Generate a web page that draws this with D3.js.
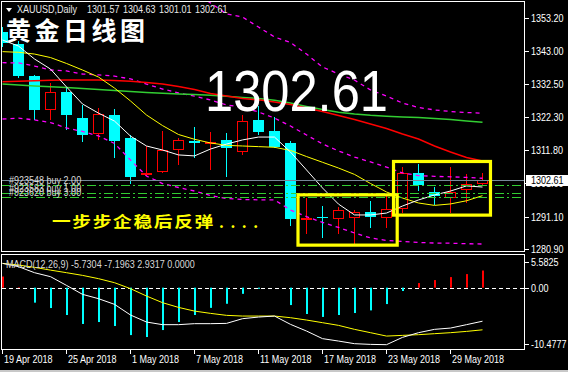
<!DOCTYPE html>
<html>
<head>
<meta charset="utf-8">
<script src="https://cdnjs.cloudflare.com/ajax/libs/d3/7.8.5/d3.min.js"></script>
<style>
html, body { margin: 0; padding: 0; background: #000; overflow: hidden; }
svg { display: block; }
</style>
</head>
<body>
<svg id="chart" width="568" height="372"></svg>
<script>
// ---- data ----
var dates = ["19 Apr 2018","20 Apr 2018","23 Apr 2018","24 Apr 2018","25 Apr 2018","26 Apr 2018","27 Apr 2018","30 Apr 2018",
             "1 May 2018","2 May 2018","3 May 2018","4 May 2018","7 May 2018","8 May 2018","9 May 2018","10 May 2018",
             "11 May 2018","14 May 2018","15 May 2018","16 May 2018","17 May 2018","18 May 2018","21 May 2018","22 May 2018",
             "23 May 2018","24 May 2018","25 May 2018","28 May 2018","29 May 2018","30 May 2018","31 May 2018"];
var open  = [1349.0,1345.15,1335.1,1324.7,1330.2,1322.1,1317.2,1322.9,1315.8,1304.4,1305.5,1312.2,1314.9,1314.0,1315.1,1311.7,
             1321.35,1317.9,1314.05,1290.3,1291.0,1290.55,1290.9,1292.5,1290.9,1293.9,1304.85,1298.7,1297.3,1299.65,1301.57];
var high  = [1350.5,1346.2,1335.3,1332.8,1331.8,1326.0,1325.0,1324.7,1316.65,1313.2,1318.0,1315.6,1319.1,1317.7,1317.4,1322.9,
             1325.7,1322.2,1314.8,1296.8,1294.4,1294.0,1293.15,1296.1,1297.55,1306.5,1307.55,1300.3,1306.5,1304.4,1304.63];
var low   = [1344.6,1334.7,1321.7,1321.75,1318.4,1314.9,1315.3,1309.85,1301.5,1304.1,1305.15,1307.6,1309.85,1305.85,1303.8,1310.6,
             1316.95,1312.8,1288.5,1286.05,1284.8,1285.85,1282.5,1287.75,1287.75,1292.6,1299.4,1295.0,1292.6,1295.75,1301.01];
var close = [1345.4,1335.1,1324.5,1330.1,1322.9,1316.65,1323.1,1314.9,1303.6,1304.75,1311.95,1315.1,1314.05,1314.3,1312.5,1321.0,
             1317.7,1313.0,1290.3,1290.65,1290.65,1293.15,1292.6,1291.05,1293.4,1304.65,1301.0,1297.6,1298.8,1301.2,1302.61];

var maWhite  = [1346.4,1344.5,1340.45,1337.3,1331.7,1326.35,1323.5,1321.0,1316.3,1313.2,1311.95,1310.4,1310.1,1312.25,1313.8,1315.1,
                1316.0,1316.0,1311.3,1305.7,1300.05,1295.0,1291.6,1291.6,1292.2,1294.4,1296.3,1297.85,1299.1,1300.7,1300.35];
var maYellow = [1342.75,1342.55,1342.0,1340.9,1339.05,1337.0,1334.8,1331.35,1327.3,1322.9,1319.6,1316.8,1315.3,1314.15,1313.4,1313.2,
                1313.0,1312.8,1311.8,1309.9,1308.1,1306.3,1304.3,1301.45,1298.8,1296.9,1295.35,1294.6,1295.05,1296.05,1297.65];
var maRed    = [1333.35,1333.45,1333.65,1333.8,1333.9,1333.9,1333.9,1333.7,1333.45,1333.1,1332.6,1331.85,1330.9,1329.65,1328.85,1328.1,
                1327.65,1327.0,1326.2,1325.1,1324.0,1322.75,1321.5,1320.1,1318.7,1316.95,1315.4,1313.2,1311.3,1309.6,1308.5];
var maGreen  = [1332.6,1332.3,1332.0,1331.75,1331.5,1331.2,1330.9,1330.6,1330.25,1329.95,1329.7,1329.5,1329.35,1329.1,1328.75,1328.4,
                1328.1,1327.5,1326.65,1325.6,1324.6,1323.8,1323.2,1322.8,1322.55,1322.3,1322.1,1321.8,1321.5,1321.05,1320.6];
var bandUpper = [null,null,null,null,null,null,null,null,null,null,null,null,1361.45,1358.0,1354.55,1353.6,
                 1350.45,1347.35,1345.6,1342.0,1337.95,1335.75,1333.85,1330.75,1328.85,1326.65,1325.25,1324.5,1324.0,1323.7,1323.45];
var bandMid   = [1339.3,1339.2,1338.25,1337.0,1336.7,1335.75,1335.45,1335.1,1334.2,1332.6,1331.05,1329.8,1328.85,1327.6,1326.05,1325.4,
                 1323.85,1321.95,1319.45,1316.65,1313.85,1311.65,1309.75,1308.2,1306.6,1304.75,1303.95,1303.7,1303.55,1303.35,1303.1];
var bandLower = [1321.65,1321.95,1321.35,1320.55,1318.85,1317.75,1316.35,1314.0,1308.8,1303.8,1301.45,1300.2,1299.1,1297.7,1296.75,1296.45,
                 1296.35,1296.3,1293.15,1291.1,1289.25,1287.7,1285.95,1284.4,1283.6,1283.3,1283.0,1282.8,1282.75,1282.6,1282.5];

var macdHist   = [1.9,0.1,-2.56,-3.48,-4.67,-6.2,-5.87,-6.55,-8.1,-8.43,-7.24,-5.87,-4.67,-3.45,-2.75,-1.05,
                  -0.2,0,-2.97,-4.5,-5.0,-4.67,-4.33,-3.88,-2.8,-0.57,0.79,1.3,1.81,2.32,2.93];
var macdMain   = [4.15,3.59,2.56,1.88,0.39,-1.14,-1.88,-2.85,-4.67,-5.87,-6.32,-6.32,-6.15,-6.15,-6.1,-5.3,
                  -5.02,-4.85,-6.27,-7.41,-8.71,-9.12,-9.57,-9.69,-9.74,-8.49,-7.69,-7.12,-6.9,-6.32,-5.73];
var macdSignal = [4.15,3.87,3.47,3.0,2.56,2.1,1.54,0.85,-0.17,-1.43,-2.56,-3.37,-4.0,-4.39,-4.73,-4.85,
                  -4.85,-4.85,-5.13,-5.53,-5.98,-6.44,-7.12,-7.69,-8.27,-8.15,-8.03,-7.86,-7.69,-7.47,-7.2];

var priceTicks = [1353.20,1343.00,1332.50,1322.30,1311.80,1301.60,1291.10,1280.90];
var macdTicks  = [5.5825,0,-10.4777];
var macdTickLabels = ["5.5825","0.00","-10.4777"];
var dateTicks  = ["19 Apr 2018","25 Apr 2018","1 May 2018","7 May 2018","11 May 2018","17 May 2018","23 May 2018","29 May 2018"];

// open orders
var tradeLevels = [1300.90,1298.60,1297.15];
var tradeLabels = ["#923548 buy 2.00","#923583 buy 1.00","#923620 buy 3.00"];

// highlighted boxes (bar index / price)
var boxFrom   = [18.5,24.47];
var boxTo     = [24.7,30.53];
var boxTop    = [1297.9,1308.35];
var boxBottom = [1282.15,1291.55];

var macdLabel = "MACD(12,26,9) -5.7304 -7.1963 2.9317 0.0000";

// ---- drawing ----
var FONT = '"Liberation Sans",Arial,sans-serif';
var CJK = '"Noto Sans CJK SC","Noto Sans CJK TC",sans-serif';
var NARROW = 0.82; // squeeze to look like the terminal's small font
var svg = d3.select("#chart");

var x  = d3.scaleLinear().domain([0, dates.length - 1]).range([2, 482]);
var y  = d3.scaleLinear().domain([1280.0, 1358.3]).range([252, 2]);
var ym = d3.scaleLinear().domain([-10.4777, 5.5825]).range([349, 255]);

function at(px, py) { return "translate(" + px + "," + py + ") scale(" + NARROW + ",1)"; }
function small(sel) {
    return sel.attr("font-family", FONT).attr("font-size", 11);
}

svg.append("rect").attr("width", 568).attr("height", 372).attr("fill", "#000");

var defs = svg.append("defs");
defs.append("clipPath").attr("id", "clipMain")
    .append("rect").attr("x", 2).attr("y", 2).attr("width", 523).attr("height", 250);
defs.append("clipPath").attr("id", "clipMacd")
    .append("rect").attr("x", 2).attr("y", 255).attr("width", 522).attr("height", 94);

var main = svg.append("g").attr("clip-path", "url(#clipMain)");

// candles
var idx = d3.range(dates.length);
function up(i) { return close[i] >= open[i]; }
var candle = main.selectAll("g.candle").data(idx).enter().append("g").attr("class", "candle");
candle.append("line")
    .attr("x1", function(i) { return x(i) + 0.5; })
    .attr("x2", function(i) { return x(i) + 0.5; })
    .attr("y1", function(i) { return Math.round(y(high[i])); })
    .attr("y2", function(i) { return Math.round(y(low[i])) + 1; })
    .attr("stroke", function(i) { return up(i) ? "#ff0000" : "#00ffff"; })
    .attr("stroke-width", 1);
candle.append("rect")
    .attr("x", function(i) { return up(i) ? x(i) - 4.5 : x(i) - 5; })
    .attr("width", function(i) { return up(i) ? 10 : 11; })
    .attr("y", function(i) {
        var t = Math.round(y(Math.max(open[i], close[i])));
        return up(i) ? t + 0.5 : t;
    })
    .attr("height", function(i) {
        var h = Math.round(y(Math.min(open[i], close[i]))) - Math.round(y(Math.max(open[i], close[i])));
        return Math.max(up(i) ? 0 : 1, h);
    })
    .attr("fill", function(i) { return up(i) ? "#000" : "#00ffff"; })
    .attr("stroke", function(i) { return up(i) ? "#ff0000" : "none"; })
    .attr("stroke-width", 1);

// indicator lines
function priceLine(arr, color, w, dash) {
    var line = d3.line()
        .defined(function(d) { return d != null; })
        .x(function(d, i) { return x(i) + 0.5; })
        .y(function(d) { return y(d); });
    main.append("path").datum(arr)
        .attr("d", line)
        .attr("fill", "none")
        .attr("stroke", color)
        .attr("stroke-width", w)
        .attr("stroke-dasharray", dash || null);
}
priceLine(bandUpper, "#ff00ff", 1.3, "4,4");
priceLine(bandMid,   "#ff00ff", 1.3, "4,4");
priceLine(bandLower, "#ff00ff", 1.3, "4,4");
priceLine(maGreen,  "#32cd32", 1.5);
priceLine(maRed,    "#ff0000", 1.5);
priceLine(maYellow, "#ffff00", 1);
priceLine(maWhite,  "#ffffff", 1);

// bid line and order lines
var lastClose = close[close.length - 1];
main.append("line")
    .attr("x1", 2).attr("x2", 525)
    .attr("y1", Math.round(y(lastClose)) + 0.5).attr("y2", Math.round(y(lastClose)) + 0.5)
    .attr("stroke", "#778899").attr("stroke-width", 1);
main.selectAll("line.trade").data(tradeLevels).enter().append("line")
    .attr("class", "trade")
    .attr("x1", 2).attr("x2", 525)
    .attr("y1", function(d) { return Math.round(y(d)) + 0.5; })
    .attr("y2", function(d) { return Math.round(y(d)) + 0.5; })
    .attr("stroke", "#32cd32").attr("stroke-width", 1)
    .attr("stroke-dasharray", "9,3,2,3");
small(main.selectAll("text.trade").data(tradeLevels).enter().append("text"))
    .attr("class", "trade")
    .attr("transform", function(d) { return at(9, Math.round(y(d)) - 1); })
    .attr("fill", "#d8d8d8")
    .text(function(d, i) { return tradeLabels[i]; });

// yellow boxes
main.selectAll("rect.box").data(boxFrom).enter().append("rect")
    .attr("class", "box")
    .attr("x", function(d) { return x(d); })
    .attr("width", function(d, i) { return x(boxTo[i]) - x(d); })
    .attr("y", function(d, i) { return y(boxTop[i]); })
    .attr("height", function(d, i) { return y(boxBottom[i]) - y(boxTop[i]); })
    .attr("fill", "none").attr("stroke", "#ffff00").attr("stroke-width", 3.2);

// frames
svg.append("rect").attr("x", 1.5).attr("y", 1.5).attr("width", 523).attr("height", 250)
    .attr("fill", "none").attr("stroke", "#fff").attr("stroke-width", 1);
svg.append("rect").attr("x", 1.5).attr("y", 254.5).attr("width", 523).attr("height", 95)
    .attr("fill", "none").attr("stroke", "#fff").attr("stroke-width", 1);

// price axis
var pAxis = svg.append("g");
pAxis.selectAll("line").data(priceTicks).enter().append("line")
    .attr("x1", 525).attr("x2", 529)
    .attr("y1", function(d) { return Math.round(y(d)) + 0.5; })
    .attr("y2", function(d) { return Math.round(y(d)) + 0.5; })
    .attr("stroke", "#fff");
small(pAxis.selectAll("text").data(priceTicks).enter().append("text"))
    .attr("transform", function(d) { return at(531, y(d) + 4); })
    .attr("fill", "#fff")
    .text(function(d) { return d.toFixed(2); });
svg.append("rect").attr("x", 526).attr("y", Math.round(y(lastClose)) - 5)
    .attr("width", 42).attr("height", 11).attr("fill", "#fff");
small(svg.append("text"))
    .attr("transform", at(531, y(lastClose) + 4))
    .attr("fill", "#000")
    .text(lastClose.toFixed(2));

// MACD panel
var macd = svg.append("g").attr("clip-path", "url(#clipMacd)");
macd.append("line").attr("x1", 2).attr("x2", 524)
    .attr("y1", Math.round(ym(0)) + 0.5).attr("y2", Math.round(ym(0)) + 0.5)
    .attr("stroke", "#fff").attr("stroke-dasharray", "4,3");
macd.selectAll("rect.hist").data(macdHist).enter().append("rect")
    .attr("class", "hist")
    .attr("x", function(d, i) { return x(i); })
    .attr("width", 2)
    .attr("y", function(d) { return Math.min(ym(d), ym(0)); })
    .attr("height", function(d) { return Math.abs(ym(d) - ym(0)); })
    .attr("fill", function(d) { return d >= 0 ? "#ff0000" : "#00ffff"; });
var mline = d3.line().x(function(d, i) { return x(i) + 0.5; }).y(function(d) { return ym(d); });
macd.append("path").datum(macdSignal).attr("d", mline)
    .attr("fill", "none").attr("stroke", "#ffff00").attr("stroke-width", 1);
macd.append("path").datum(macdMain).attr("d", mline)
    .attr("fill", "none").attr("stroke", "#ffffff").attr("stroke-width", 1);
small(svg.append("text"))
    .attr("transform", at(6, 268))
    .attr("fill", "#d8d8d8")
    .text(macdLabel);

function macdLabelY(d) { return Math.max(262, Math.min(344, ym(d))); }
var mAxis = svg.append("g");
mAxis.selectAll("line").data(macdTicks).enter().append("line")
    .attr("x1", 525).attr("x2", 529)
    .attr("y1", function(d) { return Math.round(macdLabelY(d)) + 0.5; })
    .attr("y2", function(d) { return Math.round(macdLabelY(d)) + 0.5; })
    .attr("stroke", "#fff");
small(mAxis.selectAll("text").data(macdTicks).enter().append("text"))
    .attr("transform", function(d) { return at(531, macdLabelY(d) + 4); })
    .attr("fill", "#fff")
    .text(function(d, i) { return macdTickLabels[i]; });

// date axis
var dAxis = svg.append("g");
dAxis.selectAll("line").data(dateTicks).enter().append("line")
    .attr("x1", function(d) { return x(dates.indexOf(d)) + 0.5; })
    .attr("x2", function(d) { return x(dates.indexOf(d)) + 0.5; })
    .attr("y1", 349).attr("y2", 354)
    .attr("stroke", "#fff");
small(dAxis.selectAll("text").data(dateTicks).enter().append("text"))
    .attr("transform", function(d) { return at(x(dates.indexOf(d)) + 2, 363); })
    .attr("fill", "#fff")
    .text(function(d) { return d; });
svg.append("rect").attr("x", 0).attr("y", 370).attr("width", 568).attr("height", 2).attr("fill", "#c8c8c8");

// header and annotations
svg.append("path").attr("d", "M6,8 L12,8 L9,12 Z").attr("fill", "#fff");
small(svg.append("text"))
    .attr("transform", at(17, 13))
    .attr("fill", "#e8e8e8")
    .text("XAUUSD,Daily");
var hdr = [open[30], high[30], low[30], close[30]];
var hdrX = [87, 123, 159, 195];
small(svg.selectAll("text.hdr").data(hdr).enter().append("text"))
    .attr("class", "hdr")
    .attr("transform", function(d, i) { return at(hdrX[i], 13); })
    .attr("fill", "#e8e8e8")
    .text(function(d) { return d.toFixed(2); });

svg.append("text").attr("x", 6).attr("y", 40)
    .attr("fill", "#fff").attr("font-family", CJK).attr("font-weight", "bold")
    .attr("font-size", 25).attr("letter-spacing", 3.5)
    .text("黄金日线图");

svg.append("text").attr("x", 205).attr("y", 111)
    .attr("fill", "#fff").attr("font-family", FONT)
    .attr("font-size", 58).attr("textLength", 183).attr("lengthAdjust", "spacingAndGlyphs")
    .text(lastClose.toFixed(2));

svg.append("text").attr("transform", "translate(52,227) scale(1.25,1)")
    .attr("fill", "#ffff00").attr("font-family", CJK).attr("font-weight", "bold")
    .attr("font-size", 15).attr("letter-spacing", 1.3)
    .text("一步步企稳后反弹");
svg.append("text").attr("x", 219).attr("y", 228)
    .attr("fill", "#ffff00").attr("font-family", CJK).attr("font-weight", "bold")
    .attr("font-size", 15).attr("letter-spacing", 6.5)
    .text("....");
</script>
</body>
</html>
